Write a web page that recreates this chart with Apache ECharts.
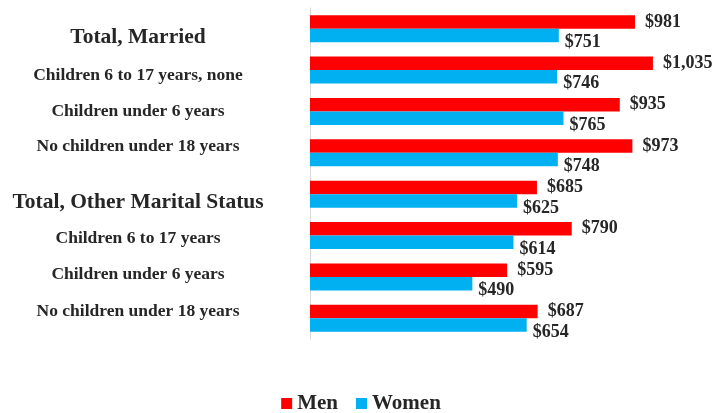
<!DOCTYPE html>
<html>
<head>
<meta charset="utf-8">
<script src="https://cdn.jsdelivr.net/npm/echarts@6/dist/echarts.min.js"></script>
<style>
  html, body { margin: 0; padding: 0; background: #fff; }
  #chart { width: 722px; height: 413px; }
</style>
</head>
<body>
<div id="chart"></div>
<script>
// categories, top to bottom
const categories = [
  "Total, Married",
  "Children 6 to 17 years, none",
  "Children under 6 years",
  "No children under 18 years",
  "Total, Other Marital Status",
  "Children 6 to 17 years",
  "Children under 6 years",
  "No children under 18 years"
];
const men = [981, 1035, 935, 973, 685, 790, 595, 687];
const women = [751, 746, 765, 748, 625, 614, 490, 654];

// headers are drawn larger; small vertical shifts of the labels
const isHeader = [true, false, false, false, true, false, false, false];
const labelShift = [9, 5, 0, -6, 8, 3, -2, -7];

const FONT = "'Liberation Serif', 'Times New Roman', serif";

const rich = {};
categories.forEach((c, i) => {
  const s = labelShift[i];
  rich["c" + i] = {
    fontFamily: FONT,
    fontWeight: "bold",
    fontSize: isHeader[i] ? 21.5 : 17.5,
    color: "#262626",
    padding: s >= 0 ? [2 * s, 0, 0, 0] : [0, 0, -2 * s, 0]
  };
});

const money = v => "$" + v.toLocaleString("en-US");

let mychart = echarts.init(document.getElementById("chart"));
mychart.setOption({
  animation: false,
  grid: {
    left: 310,
    top: 8,
    height: 331,
    width: 397.6
  },
  legend: {
    top: 393,
    left: "center",
    padding: 0,
    icon: "rect",
    itemWidth: 11,
    itemHeight: 11,
    itemGap: 18,
    textStyle: {
      fontFamily: FONT,
      fontWeight: "bold",
      fontSize: 21,
      color: "#262626"
    },
    data: ["Men", "Women"]
  },
  xAxis: {
    type: "value",
    min: 0,
    max: 1200,
    show: false
  },
  yAxis: {
    type: "category",
    inverse: true,
    data: categories,
    axisLine: { lineStyle: { color: "#d9d9d9" } },
    axisTick: { show: false },
    axisLabel: {
      align: "center",
      margin: 172,
      formatter: (v, i) => "{c" + i + "|" + v + "}",
      rich: rich
    }
  },
  series: [
    {
      name: "Men",
      type: "bar",
      data: men,
      color: "#ff0000",
      barGap: "0%",
      barCategoryGap: "35%",
      label: {
        show: true,
        position: "right",
        distance: 10,
        formatter: p => money(p.value),
        fontFamily: FONT,
        fontWeight: "bold",
        fontSize: 18,
        color: "#262626"
      }
    },
    {
      name: "Women",
      type: "bar",
      data: women,
      color: "#00b0f0",
      label: {
        show: true,
        position: "right",
        distance: 6,
        offset: [0, 7],
        formatter: p => money(p.value),
        fontFamily: FONT,
        fontWeight: "bold",
        fontSize: 18,
        color: "#262626"
      }
    }
  ]
});
window.addEventListener("resize", () => {
  mychart.resize();
});
</script>
</body>
</html>
